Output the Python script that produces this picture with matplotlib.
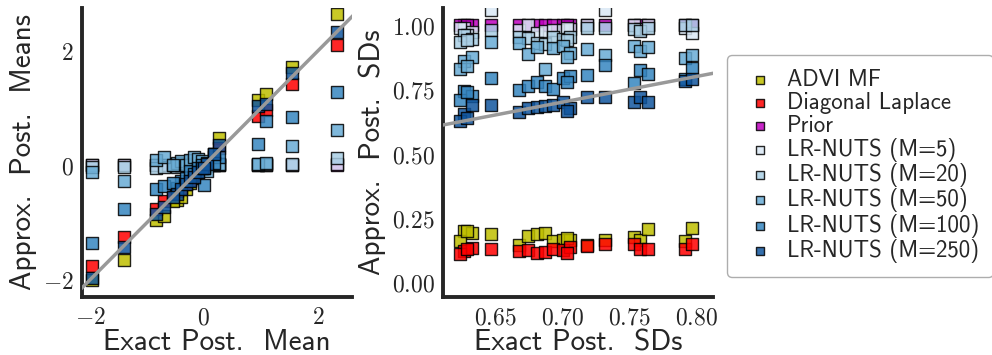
import matplotlib
matplotlib.use("Agg")
import matplotlib.pyplot as plt
from matplotlib.ticker import FormatStrFormatter
import numpy as np

plt.rcParams['mathtext.fontset'] = 'cm'
plt.rcParams['axes.unicode_minus'] = False

# exact posterior means / SDs, one entry per parameter
exact_mean = [-1.96, -1.40, -0.84, -0.70, -0.47, -0.40, -0.32, -0.25, -0.17, -0.10,
              -0.03, 0.05, 0.26, 0.95, 1.09, 1.54, 2.33, -0.55, 0.00, 0.18]
exact_sd = [0.6265, 0.6327, 0.6468, 0.6678, 0.6745, 0.681, 0.687, 0.693, 0.700, 0.7057,
            0.718, 0.7317, 0.753, 0.758, 0.7637, 0.791, 0.796, 0.624, 0.6285, 0.703]

# approximate means
advi_mean = [-2.00, -1.66, -0.96, -0.88, -0.60, -0.55, -0.42, -0.30, -0.22, -0.12,
             -0.05, 0.02, 0.47, 1.15, 1.25, 1.72, 2.64, -0.62, -0.02, 0.15]
laplace_mean = [-1.76, -1.26, -0.76, -0.62, -0.45, -0.40, -0.33, -0.25, -0.17, -0.10,
                -0.02, 0.05, 0.30, 0.87, 0.96, 1.43, 2.10, -0.48, 0.00, 0.20]
prior_mean = [0.0] * 20
m5_mean = [0.00, 0.00, 0.00, 0.00, 0.00, 0.01, 0.00, 0.00, 0.01, 0.00,
           0.00, 0.00, 0.00, 0.00, 0.00, 0.00, 0.02, 0.00, 0.00, 0.00]
m20_mean = [-0.03, -0.03, -0.05, -0.02, -0.02, 0.00, 0.02, 0.00, 0.02, 0.04,
            0.00, 0.00, 0.03, 0.02, 0.02, 0.03, 0.13, 0.00, -0.05, 0.05]
m50_mean = [-0.12, -0.28, 0.09, 0.14, 0.05, 0.08, 0.00, 0.10, 0.15, 0.12,
            0.08, -0.10, 0.03, 0.03, 0.05, 0.33, 0.62, 0.00, -0.05, 0.20]
m100_mean = [-1.36, -0.77, -0.42, -0.36, -0.40, -0.28, -0.22, -0.10, -0.15, -0.05,
             0.00, 0.05, 0.15, 0.38, 0.78, 0.85, 1.29, -0.30, -0.35, 0.05]
m250_mean = [-1.97, -1.42, -0.85, -0.72, -0.50, -0.42, -0.33, -0.28, -0.20, -0.12,
             -0.05, 0.02, 0.35, 1.03, 1.08, 1.62, 2.33, -0.55, -0.05, 0.20]

# approximate SDs
advi_sd = [0.200, 0.192, 0.187, 0.144, 0.179, 0.187, 0.190, 0.160, 0.165, 0.165,
           0.145, 0.163, 0.175, 0.165, 0.206, 0.160, 0.210, 0.160, 0.200, 0.170]
laplace_sd = [0.122, 0.131, 0.128, 0.120, 0.125, 0.114, 0.117, 0.130, 0.125, 0.135,
              0.141, 0.150, 0.150, 0.128, 0.127, 0.127, 0.148, 0.110, 0.130, 0.115]
prior_sd = [1.0] * 20
m5_sd = [0.987, 0.974, 1.058, 0.980, 1.000, 0.970, 0.975, 0.980, 0.980, 0.985,
         1.000, 1.058, 1.000, 0.983, 1.000, 0.990, 0.970, 0.990, 0.960, 0.990]
m20_sd = [0.960, 0.945, 0.980, 0.955, 0.950, 0.930, 0.925, 0.955, 0.945, 0.955,
          0.990, 0.990, 0.985, 0.975, 0.990, 1.000, 1.000, 0.935, 0.940, 0.940]
m50_sd = [0.860, 0.877, 0.935, 0.930, 0.887, 0.916, 0.828, 0.910, 0.920, 0.890,
          0.905, 0.883, 0.920, 0.900, 0.915, 0.870, 0.883, 0.830, 0.840, 0.875]
m100_sd = [0.745, 0.724, 0.793, 0.747, 0.763, 0.780, 0.763, 0.750, 0.793, 0.800,
           0.805, 0.845, 0.775, 0.825, 0.810, 0.790, 0.832, 0.710, 0.740, 0.780]
m250_sd = [0.654, 0.690, 0.690, 0.663, 0.677, 0.680, 0.684, 0.690, 0.700, 0.677,
           0.720, 0.720, 0.700, 0.720, 0.700, 0.784, 0.790, 0.625, 0.640, 0.665]

labels = ['ADVI MF', 'Diagonal Laplace', 'Prior', 'LR-NUTS (M=5)', 'LR-NUTS (M=20)',
          'LR-NUTS (M=50)', 'LR-NUTS (M=100)', 'LR-NUTS (M=250)']
colors = [(0.75, 0.75, 0), (1, 0, 0), (0.75, 0, 0.75),
          '#dae8f5', '#aacfe5', '#69acd5', '#3686c0', '#11569e']
means = [advi_mean, laplace_mean, prior_mean, m5_mean, m20_mean, m50_mean, m100_mean, m250_mean]
sds = [advi_sd, laplace_sd, prior_sd, m5_sd, m20_sd, m50_sd, m100_sd, m250_sd]

fig = plt.figure(figsize=(9.92, 3.55), dpi=100)
ax1 = fig.add_axes([82/992, 58/355, 270/992, 289/355])
ax2 = fig.add_axes([443/992, 58/355, 270/992, 289/355])

for lab, col, mu, sd in zip(labels, colors, means, sds):
    ax1.scatter(exact_mean, mu, marker='s', s=75, color=col, edgecolor='k',
                linewidth=1, alpha=0.85, label=lab, zorder=3)
    ax2.scatter(exact_sd, sd, marker='s', s=75, color=col, edgecolor='k',
                linewidth=1, alpha=0.85, zorder=3)

ax1.set_xlim(-2.14, 2.6)
ax1.set_ylim(-2.3, 2.75)
ax2.set_xlim(0.611, 0.812)
ax2.set_ylim(-0.058, 1.066)

# y = x reference lines
for ax in (ax1, ax2):
    lo, hi = ax.get_xlim()
    ax.plot([lo, hi], [lo, hi], color='#999999', lw=2.5, zorder=4)

ax1.set_xticks([-2, 0, 2])
ax1.set_yticks([-2, 0, 2])
ax1.xaxis.set_major_formatter(FormatStrFormatter('$%d$'))
ax1.yaxis.set_major_formatter(FormatStrFormatter('$%d$'))
ax2.set_xticks([0.65, 0.70, 0.75, 0.80])
ax2.set_yticks([0.0, 0.25, 0.5, 0.75, 1.0])
ax2.xaxis.set_major_formatter(FormatStrFormatter('$%.2f$'))
ax2.yaxis.set_major_formatter(FormatStrFormatter('$%.2f$'))

for ax in (ax1, ax2):
    for s in ('top', 'right'):
        ax.spines[s].set_visible(False)
    for s in ('left', 'bottom'):
        ax.spines[s].set_linewidth(2.8)
        ax.spines[s].set_color('#262626')
    ax.tick_params(length=0, labelsize=17, colors='#262626', pad=6)

lab_font = dict(family='cmss10', fontsize=21, color='#262626')
ax1.set_xlabel('Exact Post.  Mean', labelpad=0, **lab_font)
ax1.set_ylabel('Approx.  Post.  Means', labelpad=4, **lab_font)
ax2.set_xlabel('Exact Post.  SDs', labelpad=0, **lab_font)
ax2.set_ylabel('Approx.  Post.  SDs', labelpad=4, **lab_font)

h, l = ax1.get_legend_handles_labels()
leg = fig.legend(h, l, loc='upper left', bbox_to_anchor=(727/992, 1 - 55/355),
                 prop=dict(family='cmss10', size=16.5), labelspacing=0.05,
                 handletextpad=0.3, markerscale=0.7, frameon=True, fancybox=True,
                 borderpad=0.6, handlelength=1.7, borderaxespad=0)
leg.get_frame().set_edgecolor('#999999')
for t in leg.get_texts():
    t.set_color('#262626')

fig.savefig('out.png', dpi=100)
